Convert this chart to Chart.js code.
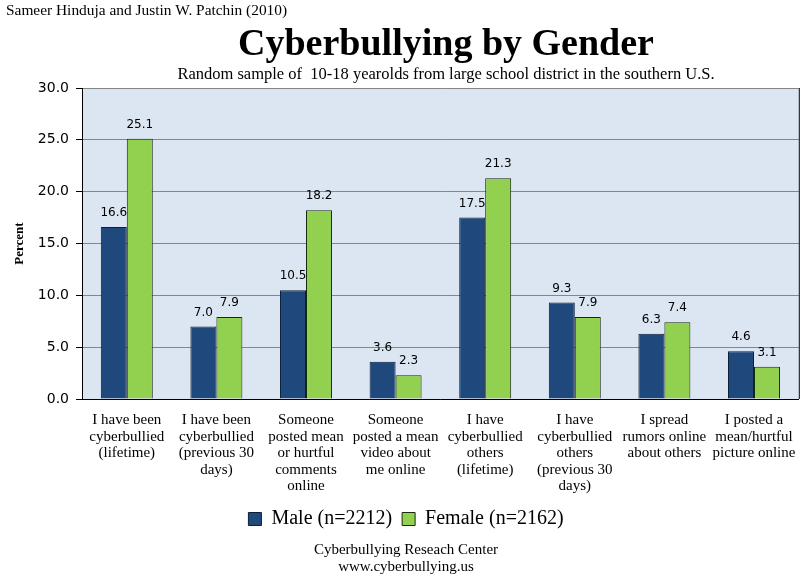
<!DOCTYPE html>
<html>
<head>
<meta charset="utf-8">
<script src="https://cdn.jsdelivr.net/npm/chart.js@4/dist/chart.umd.min.js"></script>
<style>
  html, body { margin: 0; padding: 0; background: #fff; }
  #grafico { display: block; }
</style>
</head>
<body>
<canvas id="grafico" width="809" height="581"></canvas>
<script>
// Datos del gráfico
const categorias = [
    ['I have been', 'cyberbullied', '(lifetime)'],
    ['I have been', 'cyberbullied', '(previous 30', 'days)'],
    ['Someone', 'posted mean', 'or hurtful', 'comments', 'online'],
    ['Someone', 'posted a mean', 'video about', 'me online'],
    ['I have', 'cyberbullied', 'others', '(lifetime)'],
    ['I have', 'cyberbullied', 'others', '(previous 30', 'days)'],
    ['I spread', 'rumors online', 'about others'],
    ['I posted a', 'mean/hurtful', 'picture online']
];
const hombres = [16.6, 7.0, 10.5, 3.6, 17.5, 9.3, 6.3, 4.6];
const mujeres = [25.1, 7.9, 18.2, 2.3, 21.3, 7.9, 7.4, 3.1];
const seriesNombres = ['Male (n=2212)', 'Female (n=2162)'];
const ejeY = { min: 0, max: 30, paso: 5 };

const serif = '"Liberation Serif", "DejaVu Serif", serif';
const sans = '"DejaVu Sans", Verdana, sans-serif';

// Fondo azul del área de trazado
const fondoArea = {
    id: 'fondoArea',
    beforeDraw(chart) {
        const { ctx, chartArea: a } = chart;
        ctx.save();
        ctx.fillStyle = '#dce6f2';
        ctx.fillRect(a.left, a.top, a.right - a.left, a.bottom - a.top);
        ctx.restore();
    },
    afterDatasetsDraw(chart) {
        const { ctx, chartArea: a } = chart;
        ctx.save();
        ctx.strokeStyle = '#000';
        ctx.lineWidth = 1;
        ctx.beginPath();
        ctx.moveTo(a.right + 0.5, a.top);
        ctx.lineTo(a.right + 0.5, a.bottom);
        ctx.stroke();
        ctx.restore();
    }
};

// Etiquetas de valores encima de las barras
const etiquetas = {
    id: 'etiquetas',
    afterDatasetsDraw(chart) {
        const ctx = chart.ctx;
        ctx.save();
        ctx.font = '12px ' + sans;
        ctx.fillStyle = '#000';
        ctx.textAlign = 'center';
        ctx.textBaseline = 'bottom';
        chart.data.datasets.forEach((ds, i) => {
            chart.getDatasetMeta(i).data.forEach((bar, j) => {
                ctx.fillText(ds.data[j].toFixed(1), bar.x, bar.y - 8);
            });
        });
        ctx.restore();
    }
};

// Textos: autor, título, subtítulo y pie
const textos = {
    id: 'textos',
    afterDraw(chart) {
        const ctx = chart.ctx;
        ctx.save();
        ctx.fillStyle = '#000';
        ctx.textBaseline = 'middle';
        ctx.textAlign = 'left';
        ctx.font = '15.4px ' + serif;
        ctx.fillText('Sameer Hinduja and Justin W. Patchin (2010)', 6, 11);
        ctx.textAlign = 'center';
        ctx.font = 'bold 38px ' + serif;
        ctx.fillText('Cyberbullying by Gender', 446, 45);
        ctx.font = '16.5px ' + serif;
        ctx.fillText('Random sample of  10-18 yearolds from large school district in the southern U.S.', 446, 75);
        ctx.font = '15px ' + serif;
        ctx.fillText('Cyberbullying Reseach Center', 406, 550);
        ctx.fillText('www.cyberbullying.us', 406, 567);
        ctx.restore();
    }
};

new Chart(document.getElementById('grafico').getContext('2d'), {
    type: 'bar',
    data: {
        labels: categorias,
        datasets: [{
            label: seriesNombres[0],
            data: hombres,
            backgroundColor: '#1f497d',
            borderColor: '#0d1f36',
            borderWidth: 1
        }, {
            label: seriesNombres[1],
            data: mujeres,
            backgroundColor: '#92d050',
            borderColor: '#1a2a10',
            borderWidth: 1
        }]
    },
    options: {
        responsive: false,
        animation: false,
        layout: { padding: { top: 88, left: 12, right: 9, bottom: 42 } },
        datasets: { bar: { categoryPercentage: 0.58, barPercentage: 1.0 } },
        scales: {
            x: {
                grid: { display: false, drawTicks: false },
                border: { color: '#000', width: 1 },
                ticks: {
                    color: '#000',
                    font: { family: serif, size: 15, lineHeight: 1.1 },
                    maxRotation: 0,
                    autoSkip: false,
                    padding: 13
                },
                afterFit(scale) { scale.height = 100; }
            },
            y: {
                min: ejeY.min,
                max: ejeY.max,
                ticks: {
                    stepSize: ejeY.paso,
                    color: '#000',
                    font: { family: sans, size: 14 },
                    padding: 7,
                    callback: v => v.toFixed(1)
                },
                grid: { color: '#868686', tickLength: 6, tickColor: '#000' },
                border: { color: '#000', width: 1 },
                title: {
                    display: true,
                    text: 'Percent',
                    color: '#000',
                    font: { family: serif, size: 13, weight: 'bold' },
                    padding: 0
                },
                afterFit(scale) { scale.width = 70; }
            }
        },
        plugins: {
            legend: {
                position: 'bottom',
                labels: {
                    color: '#000',
                    font: { family: serif, size: 20 },
                    boxWidth: 13,
                    boxHeight: 13,
                    padding: 10
                }
            },
            title: { display: false },
            tooltip: { enabled: false }
        }
    },
    plugins: [fondoArea, etiquetas, textos]
});
</script>
</body>
</html>
